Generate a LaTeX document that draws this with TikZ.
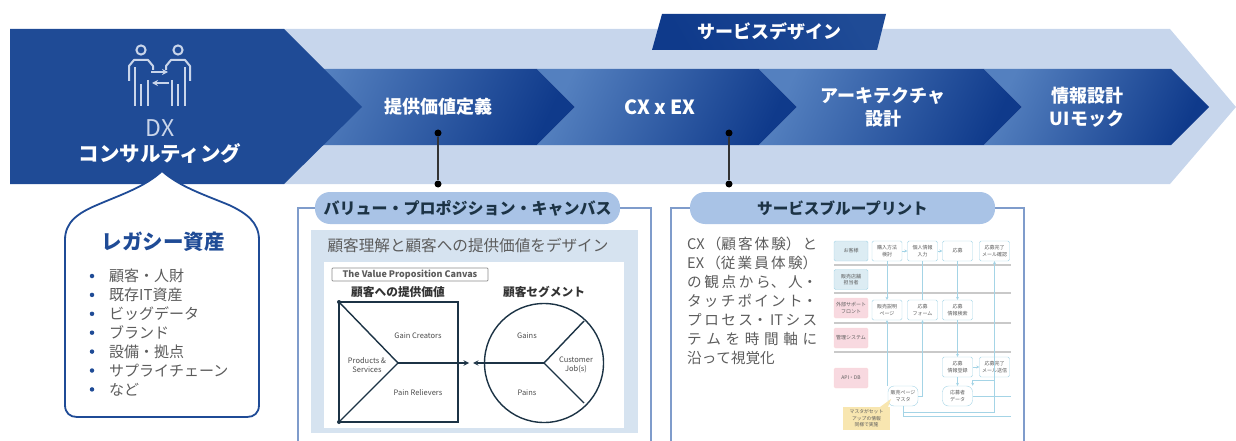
\documentclass[tikz,border=0pt]{standalone}
\usepackage{fontspec}
\setmainfont{Noto Sans CJK JP}
\usetikzlibrary{positioning, calc, arrows.meta}
\XeTeXlinebreaklocale "ja"
\XeTeXlinebreakskip=0pt plus 12pt

\definecolor{dxblue}{HTML}{1F4B96}
\definecolor{paleband}{HTML}{C7D6EC}
\definecolor{chevlight}{HTML}{5480BF}
\definecolor{chevdark}{HTML}{0F3A8B}
\definecolor{iconline}{HTML}{C9D5EA}
\definecolor{pillblue}{HTML}{A9C3E6}
\definecolor{framecol}{HTML}{7F9CCB}
\definecolor{panelblue}{HTML}{D6E3F0}
\definecolor{inkdark}{HTML}{1C3345}
\definecolor{textgrey}{HTML}{5C5C5C}
\definecolor{bpline}{HTML}{A4D4E6}
\definecolor{bpfill}{HTML}{DCECF3}
\definecolor{bppink}{HTML}{F8D9E0}
\definecolor{bpnote}{HTML}{F8E6B0}
\definecolor{bprule}{HTML}{C9C9C9}

\newcommand{\fsize}[1]{\fontsize{#1}{#1}\selectfont}

\tikzset{
  band label/.style={text=white, align=center, font=\fsize{18}\bfseries},
  link dot/.style={circle, fill=black, inner sep=0pt, minimum size=7pt},
  pill/.style={draw=none, fill=pillblue, rounded corners=15pt, minimum height=32pt, text=inkdark, font=\bfseries},
  frame line/.style={draw=framecol, line width=2pt},
  canvas line/.style={draw=inkdark, line width=1.4pt},
  canvas label/.style={font=\fsize{7.5}, text=black!70, align=center},
  bp node/.style={draw=bpline, fill=white, rounded corners=1.5pt, minimum width=30pt, minimum height=20pt,
    inner sep=0pt, align=center, font=\fontsize{5}{6.5}\selectfont, text=textgrey},
  bp side/.style={bp node, minimum width=34pt, fill=bpfill},
  bp pink/.style={bp side, draw=bppink!70!red!40, fill=bppink},
  bp edge/.style={draw=bpline, line width=0.8pt, -{Stealth[length=3pt,width=3pt]}},
  bp plain/.style={draw=bpline, line width=0.8pt}
}

\begin{document}
\begin{tikzpicture}[x=1pt, y=-1pt, >=stealth]
  \useasboundingbox (0,0) rectangle (1236,441);

  % Pale band and the first block
  \fill [paleband] (284,29) -- (1170,29) -- (1236,107) -- (1170,184) -- (284,184) -- cycle;

  % Chevrons, left edge notched to the tip of the one before
  \foreach \a/\b in {287/537, 537/759, 759/984, 984/1171}
    \shade [top color=chevlight, bottom color=chevdark, shading angle=65]
      (\a,69) -- (\b,69) -- (\b+38,107) -- (\b,145) -- (\a,145) -- (\a+38,107) -- cycle;

  \fill [dxblue] (10,29) -- (284,29) -- (362,107) -- (284,184) -- (10,184) -- cycle;

  \node [band label] (value) at (438,107) {提供価値定義};
  \node [band label, font=\fsize{19.5}\bfseries] (cxex) at (660,107) {CX x EX};
  \node [band label] (archi) at (883,107) {アーキテクチャ\\[5pt]設計};
  \node [band label] (uimock) at (1087,107) {情報設計\\[5pt]UIモック};

  % Banner on top of the band
  \shade [top color=dxblue, bottom color=chevdark, shading angle=-60]
    (662,14) -- (886,14) -- (877,50) -- (652,50) -- cycle;
  \node [text=white, font=\fsize{18}\bfseries] (service) at (769,31) {サービスデザイン};

  % Two people icon
  \foreach \x/\s in {141/1, 178/-1} {
    \draw [iconline, line width=2pt] (\x,50) circle (4.6pt);
    \draw [iconline, line width=2pt, line join=round]
      (\x-12*\s,81) -- (\x-12*\s,66) -- (\x-7*\s,60) -- (\x+7*\s,60) -- (\x+12*\s,66) -- (\x+12*\s,70);
    \draw [iconline, line width=2pt]
      (\x-6.5*\s,67) -- (\x-6.5*\s,106) (\x,84) -- (\x,106) (\x+6.5*\s,80) -- (\x+6.5*\s,106);
  }
  \draw [-{Stealth[length=6pt,width=6pt]}, iconline, line width=1.8pt] (151,72) -- (168,72);
  \draw [-{Stealth[length=6pt,width=6pt]}, iconline, line width=1.8pt] (169,83) -- (152,83);

  \node [text=iconline, font=\fsize{23}] (dx) at (160,128) {DX};
  \node [text=white, font=\fsize{20.5}\bfseries] (consult) at (160,154) {コンサルティング};

  % Legacy assets callout
  \draw [draw=dxblue, fill=white, line width=1.8pt]
    (162,171) .. controls (145,187) and (120,195) .. (97,205)
    .. controls (78,213) and (65,222) .. (65,240) -- (65,405)
    .. controls (65,413) and (70,417) .. (77,417) -- (247,417)
    .. controls (254,417) and (259,413) .. (259,405) -- (259,240)
    .. controls (259,222) and (246,213) .. (229,205)
    .. controls (205,195) and (180,187) .. (162,171) -- cycle;
  \node [text=dxblue, font=\fsize{20.5}\bfseries] (legacy) at (163,242) {レガシー資産};
  \foreach \l [count=\y from 0] in {顧客・人財, 既存IT資産, ビッグデータ, ブランド, 設備・拠点, サプライチェーン, など} {
    \node [circle, fill=dxblue, inner sep=0pt, minimum size=4.5pt] (bullet-\y) at (92,276+\y*18.9) {};
    \node [anchor=west, inner sep=0pt, text=textgrey, font=\fsize{15}] (asset-\y) at (109,276+\y*18.9) {\l};
  }

  % Frames and the pills on them
  \coordinate (frame-1-l) at (298,441);
  \coordinate (frame-1-r) at (651,441);
  \coordinate (frame-2-l) at (671,441);
  \coordinate (frame-2-r) at (1024,441);
  \node [pill, minimum width=305pt, font=\fsize{16}\bfseries] (pill-1) at (467.5,208) {バリュー・プロポジション・キャンバス};
  \node [pill, minimum width=305pt, font=\fsize{15.6}\bfseries] (pill-2) at (842.5,208) {サービスブループリント};
  \draw [frame line] (pill-1.west) -| (frame-1-l);
  \draw [frame line] (pill-1.east) -| (frame-1-r);
  \draw [frame line] (pill-2.west) -| (frame-2-l);
  \draw [frame line] (pill-2.east) -| (frame-2-r);

  % Connecting dots
  \node [link dot] (dot-1a) at (438,133) {};
  \node [link dot] (dot-1b) at (438,184) {};
  \node [link dot] (dot-2a) at (729,133) {};
  \node [link dot] (dot-2b) at (729,184) {};
  \draw [line width=1.2pt, black!80] (dot-1a) -- (dot-1b);
  \draw [line width=1.2pt, black!80] (dot-2a) -- (dot-2b);

  % Value proposition canvas
  \fill [panelblue] (311,230) rectangle (638,433);
  \fill [white] (324,262) rectangle (624,428);
  \node [text=textgrey, font=\fsize{15.6}] (design) at (468,245) {顧客理解と顧客への提供価値をデザイン};
  \node [draw=black!45, line width=0.7pt, rounded corners=0.8pt, minimum width=156pt, minimum height=13pt, inner sep=0pt,
    text=textgrey, font=\fsize{9}\bfseries] (canvas) at (410,274.5) {The Value Proposition Canvas};
  \node [text=black!80, font=\fsize{11.7}\bfseries] (offer) at (398,292) {顧客への提供価値};
  \node [text=black!80, font=\fsize{11.7}\bfseries] (segment) at (544,292) {顧客セグメント};

  \coordinate (sq-tl) at (339,302);
  \coordinate (sq-bl) at (339,422);
  \coordinate (sq-c) at (398,363);
  \coordinate (ci-c) at (544,363);
  \coordinate (ci-t) at (584,321);
  \coordinate (ci-b) at (584,403);
  \coordinate (arrow-r) at (469,363);
  \coordinate (arrow-l) at (473,363);
  \draw [canvas line] (339,302) rectangle (458,422);
  \draw [canvas line] (ci-c) circle (59.5pt);
  \draw [canvas line] (sq-tl) -- (sq-c) -- (sq-bl);
  \draw [canvas line] (ci-t) -- (ci-c) -- (ci-b);
  \draw [canvas line, ->] (sq-c) -- (arrow-r);
  \draw [canvas line, ->] (ci-c) -- (arrow-l);
  \fill [inkdark] (sq-tl) circle (2pt) (sq-bl) circle (2pt);

  \node [canvas label] (gain-creators) at (418,336) {Gain Creators};
  \node [canvas label] (products) at (367,365) {Products \&\\[1pt]Services};
  \node [canvas label] (pain-relievers) at (418,393) {Pain Relievers};
  \node [canvas label] (gains) at (527,336) {Gains};
  \node [canvas label] (jobs) at (576,365) {Customer\\[1pt]Job(s)};
  \node [canvas label] (pains) at (527,393) {Pains};

  % Blueprint text
  \node [anchor=north west, inner sep=0pt, text width=130pt, align=justify, text=textgrey,
    font=\fontsize{14.6}{19}\selectfont] (bp-text) at (687,237)
    {CX（顧客体験）と\linebreak EX（従業員体験）\linebreak の観点から、人・\linebreak タッチポイント・\linebreak プロセス・ITシス\linebreak テムを時間軸に\linebreak 沿って視覚化};

  % Blueprint sketch
  \foreach \y in {265, 293, 323, 352}
    \draw [bprule, line width=2.2pt] (834,\y) -- (1011,\y);

  \foreach \name/\y/\txt/\kind in {
      side-1/251/{お客様}/bp side, side-2/279.5/{販売店舗\\担当者}/bp side,
      side-3/308/{外部サポート\\フロント}/bp pink, side-4/338/{管理システム}/bp pink, side-5/378/{API・DB}/bp pink}
    \node [\kind] (\name) at (851,\y) {\txt};

  \foreach \name/\x/\y/\txt in {
      buy/887/251/{購入方法\\検討}, entry/922.5/251/{個人情報\\入力}, apply/957.5/251/{応募},
      done/994.5/251/{応募完了\\メール確認},
      page/887/310/{販売説明\\ページ}, form/922.5/310/{応募\\フォーム}, check/957.5/310/{応募\\情報検索},
      store/957.5/367/{応募\\情報登録}, mail/994.5/367/{応募完了\\メール送信}}
    \node [bp node] (\name) at (\x,\y) {\txt};

  \node [bp node, rounded corners=6pt] (master) at (903,396) {販売ページ\\マスタ};
  \node [bp node, rounded corners=6pt] (data) at (957.5,396) {応募者\\データ};
  \node [fill=bpnote, minimum width=47pt, minimum height=23pt, inner sep=0pt, align=center,
    text=textgrey, font=\fontsize{4.8}{6.5}\selectfont] (note) at (866.5,418.5) {マスタがセット\\アップの情報\\同様で実施};
  \fill [bpnote] (880,407) -- (891,399) -- (888,407) -- cycle;

  \coordinate (off-1) at (1011,396);
  \coordinate (off-2) at (1011,416);
  \coordinate (turn-1) at (994.5,412);

  % Draw the connecting arrows
  \draw [bp edge] (buy) -- (entry);
  \draw [bp edge] (entry) -- (apply);
  \draw [bp edge] (buy) -- (page);
  \draw [bp plain] (entry) -- (form);
  \draw [bp edge] (apply) -- (check);
  \draw [bp edge] (check) -- (store);
  \draw [bp edge] (store) -- (mail);
  \draw [bp edge] (store) -- (data);
  \draw [bp edge] (master.north -| page) -- (page);
  \draw [bp edge] (master.east) -| (form);
  \draw [bp edge] (master.south) |- (turn-1) -- (done);
  \draw [bp plain] (master.south) |- (off-2);
  \draw [bp plain] (data) -- (off-1);
  \draw [bp edge] (mail.south) -- ++(0,3) -| (data.north east);
\end{tikzpicture}
\end{document}
